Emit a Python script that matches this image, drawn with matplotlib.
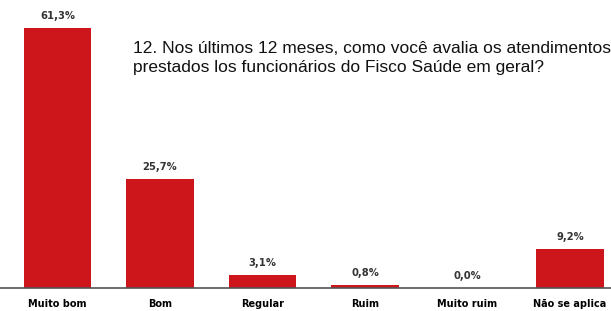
import matplotlib.pyplot as plt
import numpy as np

# dados
categorias = ['Muito bom', 'Bom', 'Regular', 'Ruim', 'Muito ruim', 'Não se aplica']
valores = [61.3, 25.7, 3.1, 0.8, 0.0, 9.2]
rotulos = ['61,3%', '25,7%', '3,1%', '0,8%', '0,0%', '9,2%']
titulo = ('12. Nos últimos 12 meses, como você avalia os atendimentos\n'
          'prestados los funcionários do Fisco Saúde em geral?')

fig = plt.figure(figsize=(6.11, 3.11), dpi=100)
ax = fig.add_axes([0, 0.074, 1, 0.926])

x = np.arange(len(categorias))
ax.bar(x, valores, width=0.66, color='#cc161c')

for xi, v, r in zip(x, valores, rotulos):
    ax.annotate(r, (xi, v), xytext=(0, 5), textcoords='offset points',
                ha='center', va='bottom', fontsize=7.2, fontweight='bold',
                color='#333333', family='DejaVu Sans')

ax.set_xlim(-0.561, 5.40)
ax.set_ylim(0, 67.9)
ax.set_xticks(x)
ax.set_xticklabels(categorias, fontsize=7, fontweight='bold', family='DejaVu Sans')
ax.tick_params(axis='x', length=0, pad=8)
ax.set_yticks([])
for s in ['top', 'right', 'left']:
    ax.spines[s].set_visible(False)
ax.spines['bottom'].set_color('#555555')
ax.spines['bottom'].set_linewidth(1.2)

fig.text(133 / 611, 1 - 41 / 311, titulo, ha='left', va='top',
         fontsize=12.5, family='Liberation Sans', color='#111111', linespacing=1.3)

fig.savefig('out.png', dpi=100)
